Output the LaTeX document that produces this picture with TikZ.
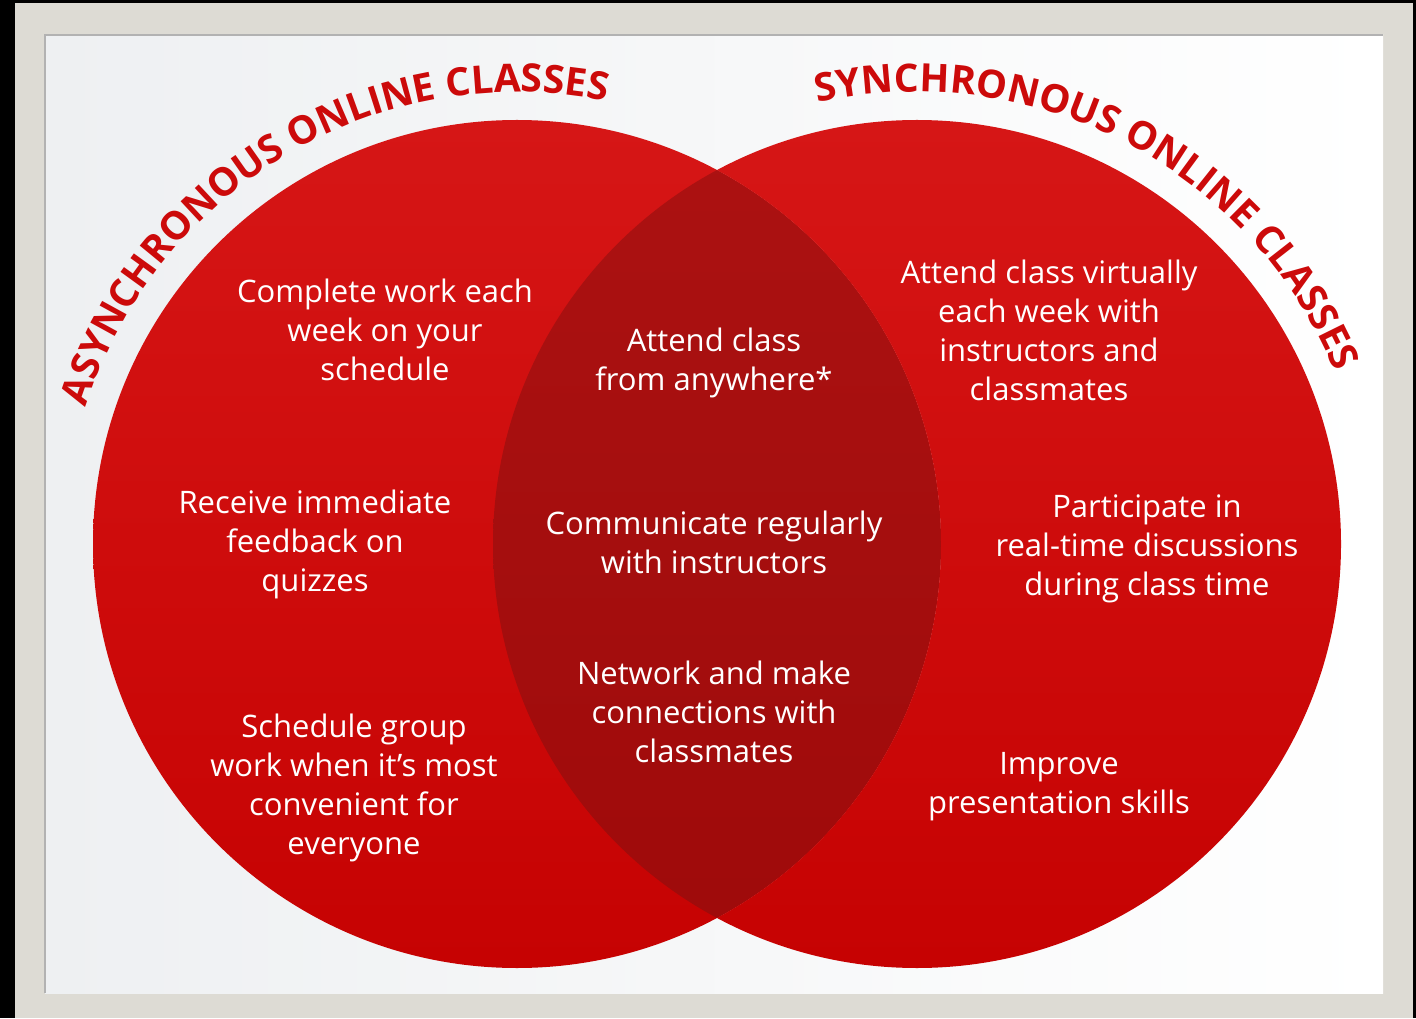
\documentclass[tikz,border=0pt]{standalone}
\usepackage{fontspec}
\setmainfont{Open Sans}
\usetikzlibrary{decorations.text,calc}

\definecolor{framegray}{RGB}{221,219,212}
\definecolor{paper}{RGB}{238,240,242}
\definecolor{vennred}{RGB}{198,2,2}
\definecolor{vennredlight}{RGB}{214,22,22}
\definecolor{lensred}{RGB}{158,10,10}
\definecolor{lensredlight}{RGB}{172,18,18}
\definecolor{titlered}{RGB}{204,10,10}

\newcommand{\arcfont}{\bfseries\fontsize{19.5}{22}\selectfont\color{titlered}}

\begin{document}
\begin{tikzpicture}[x=0.5pt,y=0.5pt,
  item/.style={text=white, align=center, inner sep=0pt, font=\fontsize{15.5}{19.5}\selectfont}]
\useasboundingbox (0,0) rectangle (1416,1018);

% frame and paper
\fill[black] (0,0) rectangle (1416,1018);
\fill[framegray] (15,0) rectangle (1413,1015);
\shade[left color=paper, right color=white] (45,25) rectangle (1383,983);
\draw[gray!60, line width=1pt] (45,25) -- (45,983) -- (1383,983);

% the two circles
\coordinate (L) at (517,474);
\coordinate (R) at (917,474);
\shade[top color=vennredlight, bottom color=vennred] (L) circle (424);
\begin{scope}
  \clip (L) circle (424);
  \shade[top color=lensredlight, bottom color=lensred] (R) circle (424);
\end{scope}
\begin{scope}
  \clip (0,0) rectangle (1416,1018) (L) circle (424);
  \shade[top color=vennredlight, bottom color=vennred, even odd rule] (R) circle (424);
\end{scope}

% titles along the arcs
\path[decorate, decoration={text along path, text align=center,
    text={|\arcfont|ASYNCHRONOUS ONLINE CLASSES}}]
  ($(L)+(162:452)$) arc (162:79:452);
\path[decorate, decoration={text along path, text align=center,
    text={|\arcfont|SYNCHRONOUS ONLINE CLASSES}}]
  ($(R)+(102:452)$) arc (102:23:452);

% asynchronous
\node[item] (a1) at (385,688) {Complete work each\\week on your\\schedule};
\node[item] (a2) at (315,474) {Receive immediate\\feedback on\\quizzes};
\node[item] (a3) at (354,230) {Schedule group\\work when it’s most\\convenient for\\everyone};

% both
\node[item] (m1) at (714,655) {Attend class\\from anywhere*};
\node[item] (m2) at (714,476) {Communicate regularly\\with instructors};
\node[item] (m3) at (714,306) {Network and make\\connections with\\classmates};

% synchronous
\node[item] (s1) at (1049,688) {Attend class virtually\\each week with\\instructors and\\classmates};
\node[item] (s2) at (1147,469) {Participate in\\real-time discussions\\during class time};
\node[item] (s3) at (1059,231) {Improve\\presentation skills};
\end{tikzpicture}
\end{document}
